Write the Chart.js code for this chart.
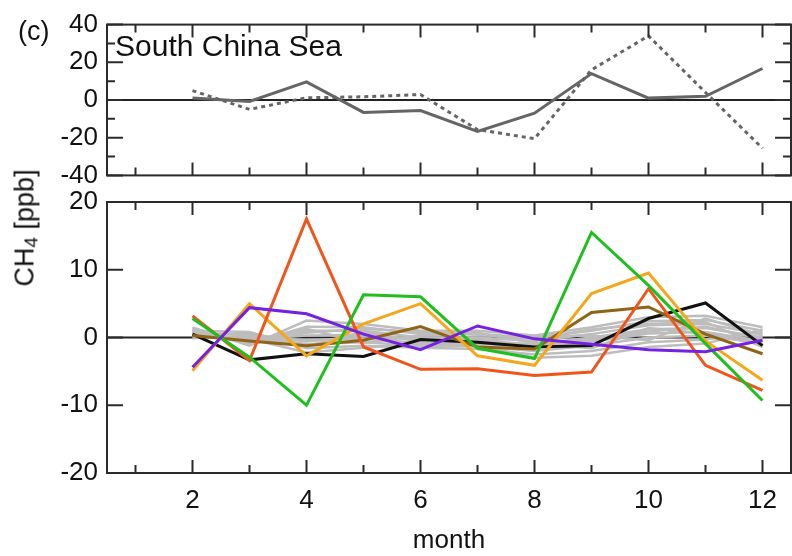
<!DOCTYPE html>
<html>
<head>
<meta charset="utf-8">
<script src="https://cdn.jsdelivr.net/npm/chart.js@4.4.0/dist/chart.umd.min.js"></script>
<style>
  body { margin: 0; background: #fff; }
  #wrap { position: relative; width: 792px; height: 556px; overflow: hidden; font-family: "Liberation Sans", Arial, sans-serif; color: #111; }
  canvas { position: absolute; left: 0; }
  #topChart { top: 0; }
  #botChart { top: 170px; }
  .lbl { position: absolute; white-space: nowrap; line-height: 30px; }
  #panelTag { left: 18px; top: 16px; font-size: 27px; }
  #region { left: 115px; top: 31px; font-size: 30px; }
  #yTitle { left: 25px; top: 228px; font-size: 27px; line-height: 27px; transform: translate(-50%, -50%) rotate(-90deg); }
  #yTitle sub { font-size: 19px; vertical-align: -4px; line-height: 0; }
</style>
</head>
<body>
<div id="wrap">
  <canvas id="topChart" width="792" height="200"></canvas>
  <canvas id="botChart" width="792" height="386"></canvas>
  <div class="lbl" id="panelTag">(c)</div>
  <div class="lbl" id="region">South China Sea</div>
  <div class="lbl" id="yTitle">CH<sub>4</sub> [ppb]</div>
</div>
<script>
// months of the anomalies and tick values
const months = [2, 3, 4, 5, 6, 7, 8, 9, 10, 11, 12];
const monthTicks = [1, 2, 3, 4, 5, 6, 7, 8, 9, 10, 11, 12];
const topTicks = [-40, -30, -20, -10, 0, 10, 20, 30, 40];
const botTicks = [-20, -10, 0, 10, 20];

// upper panel: regional anomaly (solid) and its counterpart (dotted)
const regionSolid = [1, -0.8, 9.6, -6.6, -5.6, -16.7, -7, 14, 1, 2, 16.7];
const regionDotted = [5, -5, 1.2, 1.7, 2.9, -15.7, -20.5, 16, 34, 4, -25.6];

// lower panel: coloured members
const purpleLine = [-4.4, 4.4, 3.5, 0.5, -1.8, 1.7, -0.2, -1.0, -1.8, -2.1, -0.4];
const greenLine = [2.8, -2.9, -10, 6.3, 6.0, -1.6, -3.1, 15.5, 7.7, -0.9, -9.3];
const redLine = [3.2, -3.4, 17.5, -1.4, -4.7, -4.6, -5.6, -5.1, 7.2, -4.1, -7.8];
const orangeLine = [-4.9, 5.0, -2.7, 2.0, 5.0, -2.7, -4.1, 6.5, 9.5, -0.5, -6.3];
const brownLine = [0.3, -0.5, -1.2, -0.4, 1.6, -1.4, -1.7, 3.7, 4.5, 0.5, -2.4];
const blackLine = [0.5, -3.3, -2.4, -2.8, -0.3, -0.7, -1.4, -1.2, 2.8, 5.1, -1.2];

// lower panel: grey members
const greyLines = [
  [1.5, -1.2, 2.5, 2.0, 1.0, 1.0, 0.3, 1.5, 3.0, 3.2, 1.5],
  [1.2, -0.9, 1.6, 1.5, 0.5, 0.5, 0.0, 1.0, 2.4, 2.6, 1.0],
  [0.8, -0.5, 1.0, 1.0, 0.0, 0.0, -0.5, 0.5, 1.8, 2.0, 0.5],
  [0.5, -0.3, 0.3, 0.4, -0.4, -0.5, -1.0, 0.0, 1.2, 1.4, 0.0],
  [0.2, 0.0, -0.4, -0.2, -0.8, -0.9, -1.5, -0.6, 0.6, 0.8, -0.5],
  [-0.1, 0.3, -1.0, -0.7, -1.2, -1.3, -2.0, -1.2, 0.0, 0.3, -0.9],
  [1.0, 0.8, -1.6, -1.2, -1.5, -1.7, -2.5, -2.0, -0.7, -0.3, 0.8],
  [0.3, -0.2, -2.2, -1.5, -0.9, -1.1, -3.0, -2.7, -1.4, -0.9, 1.2],
  [1.3, -1.0, 0.7, 1.3, 0.8, 0.4, -0.2, 1.2, 2.0, 2.3, -1.4],
  [0.6, 0.5, -0.6, 0.2, -0.2, -0.3, -1.2, -0.3, 0.9, 1.6, -0.2],
  [0.9, -0.7, 1.3, -0.8, 0.3, 0.7, -0.8, -1.6, 1.4, 0.6, -1.0],
  [0.4, -0.1, -1.3, 0.8, -0.6, -0.6, 0.2, 0.3, -0.4, 2.8, 0.3]
];

const FONT = { family: '"Liberation Sans", Arial, sans-serif', size: 26 };
const pts = arr => months.map((m, i) => ({ x: m, y: arr[i] }));
const zeroLine = [{ x: 0.5, y: 0 }, { x: 12.5, y: 0 }];

function line(data, color, width, extra) {
  return Object.assign({
    data: pts(data), borderColor: color, borderWidth: width,
    pointRadius: 0, tension: 0, fill: false
  }, extra || {});
}

// box with inward tick marks on all four sides
const framePlugin = {
  id: 'frame',
  afterDatasetsDraw(chart, args, opts) {
    const { ctx, chartArea: a, scales: { x, y } } = chart;
    ctx.save();
    ctx.strokeStyle = '#2b2b2b';
    ctx.lineWidth = 2;
    ctx.beginPath();
    monthTicks.forEach(m => {
      const px = x.getPixelForValue(m);
      const len = m % 2 === 0 ? 13 : 8;
      ctx.moveTo(px, a.top); ctx.lineTo(px, a.top + len);
      ctx.moveTo(px, a.bottom); ctx.lineTo(px, a.bottom - len);
    });
    opts.yTicks.forEach(v => {
      const py = y.getPixelForValue(v);
      const len = v % opts.yMajor === 0 ? 16 : 8;
      ctx.moveTo(a.left, py); ctx.lineTo(a.left + len, py);
      ctx.moveTo(a.right, py); ctx.lineTo(a.right - len, py);
    });
    ctx.stroke();
    ctx.strokeRect(a.left, a.top, a.right - a.left, a.bottom - a.top);
    ctx.restore();
  }
};

Chart.register(framePlugin);

new Chart(document.getElementById('topChart'), {
  type: 'line',
  data: {
    datasets: [
      line(regionSolid, '#656565', 3),
      line(regionDotted, '#656565', 3, { borderDash: [4, 4] }),
      { data: zeroLine, borderColor: '#222', borderWidth: 2, pointRadius: 0 }
    ]
  },
  options: {
    responsive: false,
    animation: false,
    events: [],
    layout: { padding: { left: 0, right: 1, top: 21, bottom: 21 } },
    plugins: { legend: { display: false }, tooltip: { enabled: false }, frame: { yTicks: topTicks, yMajor: 20 } },
    scales: {
      x: { type: 'linear', min: 0.5, max: 12.5, display: false },
      y: {
        min: -40, max: 40,
        afterBuildTicks: s => { s.ticks = topTicks.map(v => ({ value: v })); },
        afterFit: s => { s.width = 107; },
        grid: { display: false, drawTicks: false },
        border: { display: false },
        ticks: { font: FONT, color: '#111', padding: 9, autoSkip: false, callback: v => (v % 20 === 0 ? String(v) : '') }
      }
    }
  }
});

const botSets = [
  line(purpleLine, '#7422e0', 3),
  line(greenLine, '#1fbf1f', 3),
  line(redLine, '#f0561c', 3),
  line(orangeLine, '#f5a71c', 3),
  line(brownLine, '#8f6416', 3),
  line(blackLine, '#111111', 3)
];
greyLines.forEach(g => botSets.push(line(g, '#bdbdbd', 2.5)));
botSets.push({ data: zeroLine, borderColor: '#222', borderWidth: 2, pointRadius: 0 });

new Chart(document.getElementById('botChart'), {
  type: 'line',
  data: { datasets: botSets },
  options: {
    responsive: false,
    animation: false,
    events: [],
    layout: { padding: { left: 0, right: 1, top: 32, bottom: 0 } },
    plugins: { legend: { display: false }, tooltip: { enabled: false }, frame: { yTicks: botTicks, yMajor: 10 } },
    scales: {
      x: {
        type: 'linear', min: 0.5, max: 12.5,
        afterBuildTicks: s => { s.ticks = monthTicks.map(v => ({ value: v })); },
        afterFit: s => { s.height = 83; },
        grid: { display: false, drawTicks: false },
        border: { display: false },
        ticks: { font: FONT, color: '#111', padding: 12, autoSkip: false, maxRotation: 0, callback: v => (v % 2 === 0 ? String(v) : '') },
        title: { display: true, text: 'month', font: FONT, color: '#111', padding: { top: 0, bottom: 0 } }
      },
      y: {
        min: -20, max: 20,
        afterBuildTicks: s => { s.ticks = botTicks.map(v => ({ value: v })); },
        afterFit: s => { s.width = 107; },
        grid: { display: false, drawTicks: false },
        border: { display: false },
        ticks: { font: FONT, color: '#111', padding: 9, autoSkip: false, callback: v => String(v) }
      }
    }
  }
});
</script>
</body>
</html>
